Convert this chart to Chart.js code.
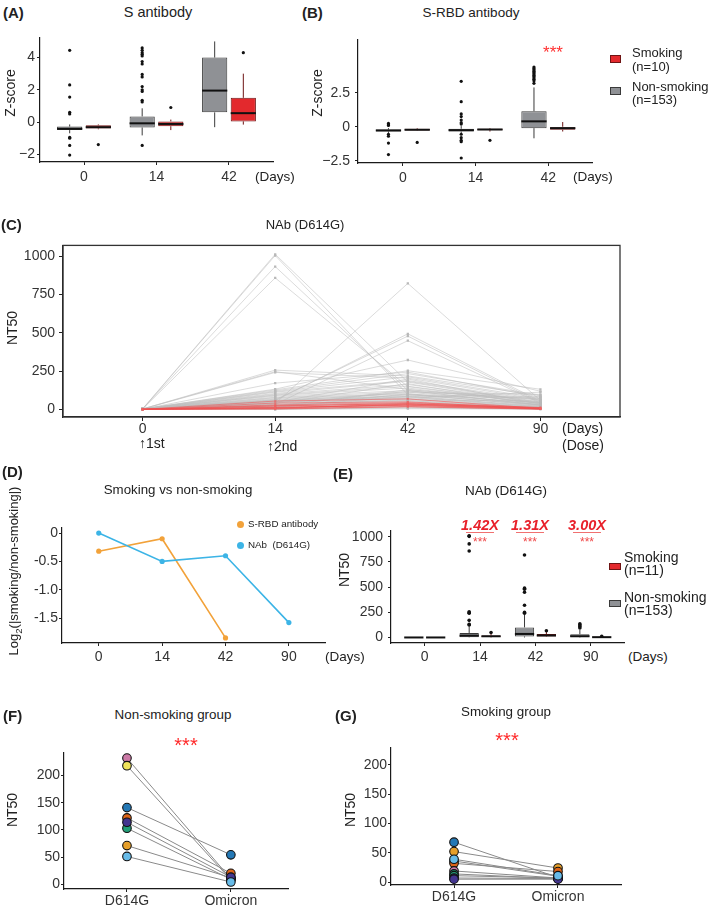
<!DOCTYPE html>
<html><head><meta charset="utf-8">
<script src="https://cdn.jsdelivr.net/npm/chart.js@4.4.1/dist/chart.umd.min.js"></script>
<style>
html,body{margin:0;padding:0;background:#fff;}
body{width:710px;height:908px;position:relative;overflow:hidden;font-family:'Liberation Sans',Arial,Helvetica,sans-serif;color:#222;}
.t{position:absolute;white-space:nowrap;line-height:1;}
canvas{position:absolute;}
.sq{position:absolute;box-sizing:border-box;}
</style></head><body>
<script>
// ================= DATA =================
// (A) S antibody, Z-score boxes: [whiskerLow, Q1, median, Q3, whiskerHigh]
const boxDays = ['0', '14', '42'];
const aTicks = [-2, 0, 2, 4];
const aGrayBox = [[-0.7, -0.5, -0.42, -0.28, -0.15], [-0.83, -0.34, -0.08, 0.35, 0.85], [-0.32, 0.6, 1.95, 4.0, 5.0]];
const aGrayOut = [[4.45, 2.3, 1.55, 0.6, 0.5, -0.95, -1.0, -1.45, -2.05], [4.6, 4.45, 4.3, 4.2, 4.1, 3.75, 3.6, 2.95, 2.8, 2.2, 2.0, 1.9, 1.35, 1.25, -1.45], []];
const aRedBox = [[-0.45, -0.4, -0.32, -0.2, -0.15], [-0.5, -0.26, -0.12, 0.04, 0.15], [-0.16, 0.04, 0.55, 1.5, 3.0]];
const aRedOut = [[-1.4], [0.9], [4.3]];

// (B) S-RBD antibody
const bTicks = [-2.5, 0, 2.5];
const bGrayBox = [[-0.45, -0.35, -0.27, -0.2, -0.1], [-0.5, -0.35, -0.25, -0.15, 0.05], [-0.85, -0.1, 0.4, 1.15, 2.9]];
const bGrayOut = [[0.25, 0.15, 0.1, -0.55, -0.7, -1.2, -2.05], [3.35, 1.85, 0.95, 0.75, 0.5, 0.3, 0.2, -0.55, -0.8, -1.0, -1.1, -2.3], [4.4, 4.3, 4.2, 4.1, 4.0, 3.9, 3.8, 3.7, 3.6, 3.5, 3.4, 3.2]];
const bRedBox = [[-0.3, -0.28, -0.22, -0.15, -0.1], [-0.35, -0.25, -0.2, -0.15, -0.1], [-0.35, -0.22, -0.1, 0.0, 0.35]];
const bRedOut = [[-1.15], [-1.0], []];

// (C) NAb (D614G) NT50 per subject at days 0, 14, 42, 90
const cDays = ['0', '14', '42', '90'];
const cTicks = [0, 250, 500, 750, 1000];
const cNonSmoking = [
  [3, 1012, 178, 42], [2, 1004, 96, 31], [3, 932, 124, 26], [2, 858, 148, 37],
  [1, 38, 822, 58], [2, 57, 493, 52], [3, 62, 478, 44], [1, 33, 448, 39],
  [2, 256, 218, 88], [3, 246, 131, 41], [2, 241, 204, 63], [1, 171, 243, 79],
  [2, 132, 322, 118], [3, 127, 252, 131], [2, 121, 233, 92], [1, 116, 212, 71],
  [2, 112, 188, 57], [3, 104, 183, 48], [2, 99, 162, 46], [1, 94, 151, 41],
  [2, 91, 139, 36], [3, 86, 122, 29], [2, 79, 113, 31], [1, 76, 102, 24],
  [2, 71, 97, 27], [3, 66, 88, 19], [2, 61, 84, 22], [1, 54, 81, 17],
  [2, 49, 77, 16], [3, 46, 69, 14], [2, 41, 66, 13], [1, 36, 58, 11],
  [2, 29, 56, 10], [3, 26, 51, 9], [2, 21, 44, 8], [1, 16, 41, 7],
  [2, 11, 36, 6], [3, 8, 31, 5], [2, 6, 24, 4], [1, 4, 19, 3],
  [2, 2, 14, 3], [3, 1, 9, 2], [2, 0, 4, 1], [1, 52, 109, 98],
  [2, 43, 94, 82], [3, 31, 62, 54], [2, 19, 128, 61], [1, 12, 101, 43],
  [2, 47, 198, 33], [3, 37, 168, 26], [2, 24, 118, 68], [1, 58, 72, 112],
  [2, 14, 86, 74]
];
const cSmoking = [
  [0, 4, 19, 2], [0, 9, 31, 3], [0, 54, 68, 6], [0, 21, 38, 8], [0, 14, 26, 4], [0, 7, 34, 11],
  [0, 29, 44, 12], [0, 2, 16, 1], [0, 12, 27, 5], [0, 24, 36, 7], [0, 41, 49, 3]
];

// (D) log2(|smoking/non-smoking|)
const dDays = ['0', '14', '42', '90'];
const dTicks = [0, -0.5, -1.0, -1.5];
const dSRBD = [-0.32, -0.1, -1.85];
const dNAb = [0, -0.5, -0.4, -1.58];

// (E) NAb (D614G) boxes
const eDays = ['0', '14', '42', '90'];
const eTicks = [0, 250, 500, 750, 1000];
const eGrayBox = [[0, 0, 0, 2, 4], [0, 3, 18, 45, 110], [0, 10, 35, 100, 230], [0, 4, 12, 32, 75]];
const eGrayOut = [[], [1010, 1005, 930, 860, 255, 245, 240, 170, 130, 125], [820, 490, 480, 450, 320, 250, 240], [135, 125, 110, 95]];
const eRedBox = [[0, 0, 0, 1, 2], [0, 4, 12, 20, 35], [5, 9, 20, 34, 55], [0, 1, 3, 6, 8]];
const eRedOut = [[], [50], [67], [12]];
const eFold = ['', '1.42X', '1.31X', '3.00X'];

// (F) Non-smoking group, (G) Smoking group
const variants = ['D614G', 'Omicron'];
const fgTicks = [0, 50, 100, 150, 200];
const fD614G = [232, 218, 103, 71, 141, 122, 114, 51];
const fOmicron = [10, 8, 9, 12, 54, 20, 13, 4];
const gD614G = [68, 52, 36, 32, 19, 14, 11, 7, 5, 39];
const gOmicron = [8, 24, 10, 18, 7, 6, 7, 6, 5, 11];

// ================= STYLE =================
const FONT = "'Liberation Sans', Arial, Helvetica, sans-serif";
const GRAY = '#8f9195', GRAY_B = '#3a3a3a', RED = '#e3292d', RED_B = '#6e1414';
const P = {pink:'#cc79a7', yellow:'#efe35a', blue:'#2478b5', verm:'#dd6418', purple:'#43358f', green:'#239e78', amber:'#e69f2a', sky:'#67bbe8'};
const fColors = [P.pink, P.yellow, P.green, P.amber, P.blue, P.verm, P.purple, P.sky];
const gColors = [P.blue, P.amber, P.sky, P.verm, P.pink, P.green, P.green, P.purple, P.purple, P.sky];

function txt(s, x, y, o) {
  o = o || {};
  const d = document.createElement('div');
  d.className = 't'; d.innerHTML = s;
  d.style.left = x + 'px'; d.style.top = y + 'px';
  d.style.fontSize = (o.size || 14) + 'px';
  if (o.bold) d.style.fontWeight = 'bold';
  if (o.italic) d.style.fontStyle = 'italic';
  d.style.color = o.color || '#222';
  const ax = o.align === 'center' ? '-50%' : (o.align === 'right' ? '-100%' : '0');
  d.style.transform = o.rot ? 'translate(-50%,-50%) rotate(-90deg)' : 'translate(' + ax + ',-50%)';
  document.body.appendChild(d);
}
function sq(x, y, w, h, bg, bd) {
  const d = document.createElement('div');
  d.className = 'sq';
  d.style.left = x + 'px'; d.style.top = y + 'px'; d.style.width = w + 'px'; d.style.height = h + 'px';
  d.style.background = bg; if (bd) d.style.border = '1px solid ' + bd;
  document.body.appendChild(d);
  return d;
}

function axis(min, max, ticks, labels, tl, pad) {
  return {
    type: 'linear', min: min, max: max, offset: false, bounds: 'data',
    afterBuildTicks: function (s) { s.ticks = ticks.map(function (v) { return {value: v}; }); },
    ticks: {callback: function (v, i) { return labels[i]; }, font: {family: FONT, size: 14}, color: '#333', padding: pad, maxRotation: 0, autoSkip: false},
    grid: {display: true, drawOnChartArea: false, drawTicks: true, tickLength: tl, color: '#222', lineWidth: 1, offset: false},
    border: {display: true, color: '#1a1a1a', width: 1.2}
  };
}

function panel(area, L, B, padT, padR, cfg) {
  const c = document.createElement('canvas');
  const w = (area[2] - area[0]) + L + padR, h = (area[3] - area[1]) + padT + B;
  c.width = w; c.height = h;
  c.style.left = (area[0] - L) + 'px'; c.style.top = (area[1] - padT) + 'px';
  c.style.width = w + 'px'; c.style.height = h + 'px';
  document.body.appendChild(c);
  cfg.options = cfg.options || {};
  cfg.options.layout = {padding: {top: padT, right: padR, left: 0, bottom: 0}, autoPadding: false};
  cfg.options.responsive = false;
  cfg.options.animation = false;
  cfg.options.devicePixelRatio = 1;
  cfg.options.plugins = {legend: {display: false}, tooltip: {enabled: false}};
  cfg.options.scales.x.afterFit = function (s) { s.height = B; };
  cfg.options.scales.y.afterFit = function (s) { s.width = L; };
  return new Chart(c, cfg);
}

const boxPlugin = {
  id: 'boxes',
  afterDatasetsDraw: function (chart) {
    const ctx = chart.ctx, ys = chart.scales.y;
    chart.data.datasets.forEach(function (ds, i) {
      if (!ds.box) return;
      const meta = chart.getDatasetMeta(i);
      meta.data.forEach(function (el, j) {
        const b = ds.box[j];
        const x = el.x, w = el.width;
        ctx.save();
        ctx.strokeStyle = ds.borderColor; ctx.lineWidth = 1;
        ctx.beginPath();
        ctx.moveTo(x, ys.getPixelForValue(b[0])); ctx.lineTo(x, ys.getPixelForValue(b[1]));
        ctx.moveTo(x, ys.getPixelForValue(b[3])); ctx.lineTo(x, ys.getPixelForValue(b[4]));
        ctx.stroke();
        ctx.strokeStyle = '#111'; ctx.lineWidth = 2;
        const ym = ys.getPixelForValue(b[2]);
        ctx.beginPath(); ctx.moveTo(x - w / 2, ym); ctx.lineTo(x + w / 2, ym); ctx.stroke();
        ctx.fillStyle = '#111';
        (ds.out[j] || []).forEach(function (v) {
          ctx.beginPath(); ctx.arc(x, ys.getPixelForValue(v), ds.outR || 1.6, 0, Math.PI * 2); ctx.fill();
        });
        ctx.restore();
      });
    });
  }
};
const framePlugin = {
  id: 'frame',
  afterDatasetsDraw: function (ch) {
    const a = ch.chartArea, c = ch.ctx;
    c.save(); c.strokeStyle = '#333'; c.lineWidth = 1.3;
    c.strokeRect(a.left, a.top, a.right - a.left, a.bottom - a.top);
    c.restore();
  }
};

function boxDatasets(grayBox, grayOut, redBox, redOut, outR) {
  return [
    {data: grayBox.map(function (b, i) { return {x: i, y: [b[1], b[3]]}; }), backgroundColor: GRAY, borderColor: GRAY_B, borderWidth: 1, borderSkipped: false, box: grayBox, out: grayOut, outR: outR, categoryPercentage: 0.79, barPercentage: 0.88},
    {data: redBox.map(function (b, i) { return {x: i, y: [b[1], b[3]]}; }), backgroundColor: RED, borderColor: RED_B, borderWidth: 1, borderSkipped: false, box: redBox, out: redOut, outR: outR, categoryPercentage: 0.79, barPercentage: 0.88}
  ];
}
const minus = function (v) { return String(v).replace('-', '\u2212'); };

// ---------- (A) ----------
panel([40, 32, 273, 162], 40, 30, 5, 4, {
  type: 'bar',
  data: {datasets: boxDatasets(aGrayBox, aGrayOut, aRedBox, aRedOut, 1.6)},
  options: {scales: {
    x: axis(-0.607, 2.607, [0, 1, 2], boxDays, 3, 4),
    y: axis(-2.48, 5.25, aTicks, aTicks.map(minus), 3, 2)
  }},
  plugins: [boxPlugin]
});
// ---------- (B) ----------
panel([358, 30, 592, 163], 40, 28, 4, 4, {
  type: 'bar',
  data: {datasets: boxDatasets(bGrayBox, bGrayOut, bRedBox, bRedOut, 1.6)},
  options: {scales: {
    x: axis(-0.616, 2.6, [0, 1, 2], boxDays, 3, 4),
    y: axis(-2.67, 6.44, bTicks, bTicks.map(minus), 3, 5)
  }},
  plugins: [boxPlugin]
});
// ---------- (C) ----------
const cSets = [];
cSmoking.forEach(function (r) {
  cSets.push({data: r.map(function (v, i) { return {x: i, y: v}; }), borderColor: 'rgba(240,80,80,0.55)', borderWidth: 1, pointStyle: 'rect', pointRadius: 1.3, pointBackgroundColor: 'rgba(240,100,100,0.7)', pointBorderWidth: 0, order: 1});
});
cNonSmoking.forEach(function (r) {
  cSets.push({data: r.map(function (v, i) { return {x: i, y: v}; }), borderColor: 'rgba(190,190,190,0.55)', borderWidth: 1, pointStyle: 'rect', pointRadius: 1.6, pointBackgroundColor: '#b8b8b8', pointBorderWidth: 0, order: 2});
});
panel([63, 237, 620, 417], 60, 24, 4, 4, {
  type: 'line',
  data: {datasets: cSets},
  options: {scales: {
    x: axis(-0.6, 3.6, [0, 1, 2, 3], cDays, 4, 0),
    y: axis(-50, 1070, cTicks, cTicks.map(String), 4, 4)
  }},
  plugins: [framePlugin]
});
// ---------- (D) ----------
panel([62, 522, 325, 643], 60, 24, 4, 4, {
  type: 'line',
  data: {datasets: [
    {data: dNAb.map(function (v, i) { return {x: i, y: v}; }), borderColor: '#3cb4e6', backgroundColor: '#3cb4e6', borderWidth: 1.6, pointRadius: 2.6, pointBackgroundColor: '#3cb4e6', pointBorderWidth: 0},
    {data: dSRBD.map(function (v, i) { return {x: i, y: v}; }), borderColor: '#f2a23a', backgroundColor: '#f2a23a', borderWidth: 1.6, pointRadius: 2.6, pointBackgroundColor: '#f2a23a', pointBorderWidth: 0}
  ]},
  options: {scales: {
    x: axis(-0.58, 3.57, [0, 1, 2, 3], dDays, 3, 3),
    y: axis(-1.94, 0.1, dTicks, dTicks.map(function (v) { return v === 0 ? '0' : v.toFixed(1); }), 3, 1)
  }}
});
// ---------- (E) ----------
panel([391, 521, 624, 643], 50, 24, 4, 4, {
  type: 'bar',
  data: {datasets: boxDatasets(eGrayBox, eGrayOut, eRedBox, eRedOut, 1.8)},
  options: {scales: {
    x: axis(-0.61, 3.6, [0, 1, 2, 3], eDays, 3, 3),
    y: axis(-55, 1064, eTicks, eTicks.map(String), 3, 5)
  }},
  plugins: [boxPlugin]
});
// ---------- (F) & (G) ----------
function pairSets(d, o, colors) {
  const s = d.map(function (v, i) {
    return {data: [{x: 0, y: v}, {x: 1, y: o[i]}], borderColor: '#8a8a8a', borderWidth: 1, pointRadius: 0, order: 2};
  });
  s.push({data: d.map(function (v) { return {x: 0, y: v}; }), showLine: false, pointRadius: 4.3, pointBackgroundColor: colors, pointBorderColor: '#111', pointBorderWidth: 1.1, order: 1});
  s.push({data: o.map(function (v) { return {x: 1, y: v}; }), showLine: false, pointRadius: 4.3, pointBackgroundColor: colors, pointBorderColor: '#111', pointBorderWidth: 1.1, order: 1});
  return s;
}
panel([64, 747, 288, 889], 60, 19, 4, 4, {
  type: 'line',
  data: {datasets: pairSets(fD614G, fOmicron, fColors)},
  options: {scales: {
    x: axis(-0.606, 1.55, [0, 1], variants, 3, 1),
    y: axis(-8.85, 242.5, fgTicks, fgTicks.map(String), 3, 1)
  }}
});
panel([391, 742, 621, 885], 50, 22, 4, 4, {
  type: 'line',
  data: {datasets: pairSets(gD614G, gOmicron, gColors)},
  options: {scales: {
    x: axis(-0.606, 1.606, [0, 1], variants, 3, 1),
    y: axis(-4.9, 229.5, fgTicks, fgTicks.map(String), 3, 1)
  }}
});

// ================= TEXT =================
// A / B
txt('(A)', 3, 12, {size: 15, bold: true});
txt('S antibody', 158, 12, {size: 14.5, align: 'center'});
txt('Z-score', 10, 93, {size: 14, rot: true});
txt('(Days)', 255, 177, {size: 13.5});
txt('(B)', 302, 12, {size: 15, bold: true});
txt('S-RBD antibody', 471, 13, {size: 13.5, align: 'center'});
txt('Z-score', 317, 93, {size: 14, rot: true});
txt('(Days)', 573, 177, {size: 13.5});
txt('***', 553, 52, {size: 17, color: '#ff3030', align: 'center'});
sq(610, 55, 11, 8, RED, RED_B);
txt('Smoking', 632, 52, {size: 13});
txt('(n=10)', 632, 66, {size: 13});
sq(610, 87, 11, 8, GRAY, GRAY_B);
txt('Non-smoking', 632, 86, {size: 13});
txt('(n=153)', 632, 99, {size: 13});
// C
txt('(C)', 1, 224, {size: 15, bold: true});
txt('NAb (D614G)', 305, 224, {size: 13, align: 'center'});
txt('NT50', 12, 328, {size: 14, rot: true});
txt('(Days)', 562, 428, {size: 14});
txt('(Dose)', 562, 445, {size: 14});
txt('<b>\u2191</b>1st', 139, 443, {size: 14});
txt('<b>\u2191</b>2nd', 267, 446, {size: 14});
// D
txt('(D)', 2, 471, {size: 15, bold: true});
txt('Smoking vs non-smoking', 178, 490, {size: 13.3, align: 'center'});
txt('Log<sub style="font-size:9.5px">2</sub>(|smoking/non-smoking|)', 15, 571, {size: 13, rot: true});
txt('(Days)', 325, 657, {size: 13.5});
const dot1 = sq(237, 521, 7, 7, '#f2a23a'); dot1.style.borderRadius = '50%';
txt('S-RBD antibody', 248, 524, {size: 9.8});
const dot2 = sq(237, 542, 7, 7, '#3cb4e6'); dot2.style.borderRadius = '50%';
txt('NAb&nbsp;&nbsp;(D614G)', 248, 545, {size: 9.8});
// E
txt('(E)', 333, 473, {size: 15, bold: true});
txt('NAb (D614G)', 506, 491, {size: 13.5, align: 'center'});
txt('NT50', 344, 570, {size: 14, rot: true});
txt('(Days)', 628, 657, {size: 13.5});
const foldX = [0, 480, 530, 587];
for (let i = 1; i < 4; i++) {
  txt(eFold[i], foldX[i], 525, {size: 14.5, bold: true, italic: true, color: '#e8202a', align: 'center'});
  sq(foldX[i] - 14, 532, 28, 1, '#f07070');
  txt('***', foldX[i], 542, {size: 12, color: '#f04848', align: 'center'});
}
sq(609, 563, 12, 7, RED, RED_B);
txt('Smoking', 624, 557, {size: 14});
txt('(n=11)', 624, 570, {size: 14});
sq(609, 600, 12, 7, GRAY, GRAY_B);
txt('Non-smoking', 624, 597, {size: 14});
txt('(n=153)', 624, 610, {size: 14});
// F / G
txt('(F)', 3, 715, {size: 15, bold: true});
txt('Non-smoking group', 173, 715, {size: 13.4, align: 'center'});
txt('***', 186, 745, {size: 20, color: '#ff2a2a', align: 'center'});
txt('NT50', 12, 810, {size: 14, rot: true});
txt('(G)', 335, 715, {size: 15, bold: true});
txt('Smoking group', 506, 712, {size: 13.4, align: 'center'});
txt('***', 507, 740, {size: 20, color: '#ff2a2a', align: 'center'});
txt('NT50', 350, 810, {size: 14, rot: true});
</script>
</body></html>
